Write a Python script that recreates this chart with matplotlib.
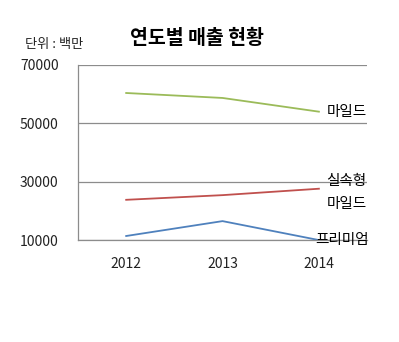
import matplotlib
matplotlib.use('Agg')
import matplotlib.pyplot as plt

plt.rcParams['font.family'] = ['Noto Sans CJK KR', 'DejaVu Sans']

years = ['2012', '2013', '2014']
mild_top = [60400, 58700, 54000]
value_line = [23800, 25400, 27600]
premium = [11400, 16500, 10000]

fig = plt.figure(figsize=(3.99, 3.42), dpi=100)
ax = fig.add_axes([0.1955, 0.298, 0.7245, 0.512])

x = range(len(years))
ax.plot(x, mild_top, color='#9bbb59', lw=1.3)
ax.plot(x, value_line, color='#c0504d', lw=1.3)
ax.plot(x, premium, color='#4f81bd', lw=1.3)

ax.set_xlim(-0.5, 2.5)
ax.set_ylim(10000, 70000)
ax.set_yticks([10000, 30000, 50000, 70000])
ax.set_xticks(list(x))
ax.set_xticklabels(years)
ax.tick_params(length=0, labelsize=10, colors='#222222')
ax.tick_params(axis='x', pad=12)
ax.tick_params(axis='y', pad=14)
ax.grid(axis='y', color='#8c8c8c', lw=0.9)
ax.set_axisbelow(True)
for s in ['top', 'right']:
    ax.spines[s].set_visible(False)
for s in ['left', 'bottom']:
    ax.spines[s].set_color('#8c8c8c')
    ax.spines[s].set_linewidth(0.9)

# series labels
ax.text(2.08, 54000, '마일드', fontsize=10.5, va='center', ha='left', clip_on=False)
ax.text(2.08, 30300, '실속형', fontsize=10.5, va='center', ha='left', clip_on=False)
ax.text(2.08, 22500, '마일드', fontsize=10.5, va='center', ha='left', clip_on=False)
ax.text(1.96, 10000, '프리미엄', fontsize=10.5, va='center', ha='left', clip_on=False)

fig.text(0.494, 0.889, '연도별 매출 현황', fontsize=14, fontweight='bold', ha='center', va='center')
fig.text(0.063, 0.871, '단위 : 백만', fontsize=9.5, ha='left', va='center', color='#222222')

fig.savefig('out.png', dpi=100)
